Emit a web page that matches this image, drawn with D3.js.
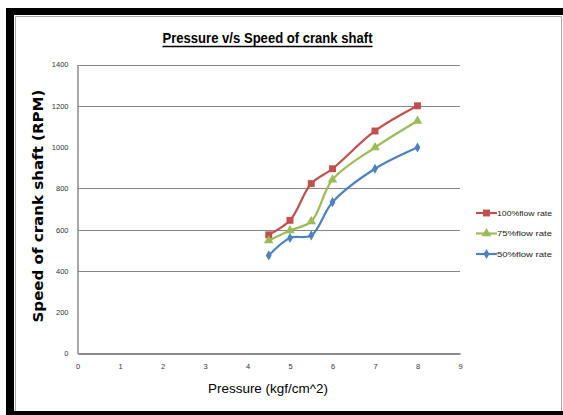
<!DOCTYPE html>
<html><head><meta charset="utf-8">
<script src="https://cdn.jsdelivr.net/npm/d3@7"></script>
<style>html,body{margin:0;padding:0;background:#fff}svg{display:block}</style>
</head><body><svg id="c" width="563" height="415"></svg>
<script>
const pressure = [4.5, 5, 5.5, 6, 7, 8];
const seriesNames = ["100%flow rate", "75%flow rate", "50%flow rate"];
const flow100 = [575, 645, 823, 895, 1078, 1200];
const flow75 = [547, 596, 640, 842, 998, 1126];
const flow50 = [475, 560, 572, 733, 895, 998];
const xTicks = [0, 1, 2, 3, 4, 5, 6, 7, 8, 9];
const yTicks = [0, 200, 400, 600, 800, 1000, 1200, 1400];
const yGrid = [400, 600, 800, 1200, 1400];
const colors = ["#C0504D", "#9BBB59", "#4F81BD"];
const symbols = [d3.symbolSquare, d3.symbolTriangle, d3.symbolDiamond];
const symSizes = [48, 40, 30];

const svg = d3.select("#c");
// outer frame
svg.append("rect").attr("x",6).attr("y",8).attr("width",557).attr("height",407).attr("fill","#000");
svg.append("rect").attr("x",14).attr("y",15).attr("width",549).attr("height",396).attr("fill","#fff");
svg.append("path").attr("d","M15.5,411 V16.5 H561.5 V411").attr("fill","none").attr("stroke","#aaa").attr("stroke-width",1);

const x = d3.scaleLinear().domain([0,9]).range([77.5,460]);
const y = d3.scaleLinear().domain([0,1400]).range([353.5,64.5]);

// gridlines
svg.append("g").selectAll("line").data(yGrid).join("line")
  .attr("x1",x(0)).attr("x2",x(9)).attr("y1",d=>Math.round(y(d))+0.5).attr("y2",d=>Math.round(y(d))+0.5)
  .attr("stroke","#868686").attr("stroke-width",1);

// axes
const yAxis = svg.append("g").attr("transform",`translate(${x(0)},0)`)
  .call(d3.axisLeft(y).tickValues(yTicks).tickSize(0).tickPadding(9).tickFormat(d3.format("d")));
const xAxis = svg.append("g").attr("transform",`translate(0,${y(0)})`)
  .call(d3.axisBottom(x).tickValues(xTicks).tickSize(0).tickPadding(10).tickFormat(d3.format("d")));
[yAxis,xAxis].forEach(a=>{
  a.select(".domain").attr("stroke","#8c8c8c").attr("stroke-width",2);
  a.selectAll("text").attr("font-family","Liberation Sans Narrow, Arial Narrow, Liberation Sans, sans-serif")
    .attr("font-size",7.5).attr("fill","#333");
});
yAxis.select(".domain").attr("stroke-width",1.5);

// series
const data = [flow100, flow75, flow50];
const line = d3.line().x((d,i)=>x(pressure[i])).y(d=>y(d)).curve(d3.curveCatmullRom.alpha(0.5));
data.forEach((vals,k)=>{
  svg.append("path").datum(vals).attr("d",line).attr("fill","none")
    .attr("stroke",colors[k]).attr("stroke-width",2.2);
  svg.append("g").selectAll("path").data(vals).join("path")
    .attr("transform",(d,i)=>`translate(${x(pressure[i])},${y(d)})`)
    .attr("d",d3.symbol().type(symbols[k]).size(symSizes[k])).attr("fill",colors[k]);
});

// legend
const legY = [213, 233.5, 254];
seriesNames.forEach((n,k)=>{
  svg.append("line").attr("x1",476).attr("x2",497).attr("y1",legY[k]).attr("y2",legY[k])
    .attr("stroke",colors[k]).attr("stroke-width",2.2);
  svg.append("path").attr("transform",`translate(486.5,${legY[k]})`)
    .attr("d",d3.symbol().type(symbols[k]).size(symSizes[k])).attr("fill",colors[k]);
  svg.append("text").attr("x",497).attr("y",legY[k]+2.7).text(n)
    .attr("font-family","Liberation Sans Narrow, Arial Narrow, Liberation Sans, sans-serif")
    .attr("font-size",8).attr("fill","#222").attr("textLength",55).attr("lengthAdjust","spacingAndGlyphs");
});

// title
svg.append("text").attr("x",267.5).attr("y",43).attr("text-anchor","middle")
  .attr("font-family","Liberation Sans Narrow, Liberation Sans, sans-serif").attr("font-weight","bold")
  .attr("font-size",15).attr("fill","#000")
  .attr("textLength",210).attr("lengthAdjust","spacingAndGlyphs")
  .text("Pressure v/s Speed of crank shaft");
svg.append("line").attr("x1",162.5).attr("x2",372.5).attr("y1",46.5).attr("y2",46.5).attr("stroke","#000").attr("stroke-width",1.3);

// axis titles
svg.append("text").attr("transform","translate(43,206) rotate(-90)").attr("text-anchor","middle")
  .attr("font-family","DejaVu Sans, sans-serif").attr("font-weight","bold").attr("font-size",14)
  .attr("fill","#000").attr("textLength",233).attr("lengthAdjust","spacingAndGlyphs")
  .text("Speed of crank shaft (RPM)");
svg.append("text").attr("x",268).attr("y",393).attr("text-anchor","middle")
  .attr("font-family","Liberation Sans, sans-serif").attr("font-size",13).attr("fill","#000")
  .attr("textLength",120).attr("lengthAdjust","spacingAndGlyphs")
  .text("Pressure (kgf/cm^2)");
</script></body></html>
